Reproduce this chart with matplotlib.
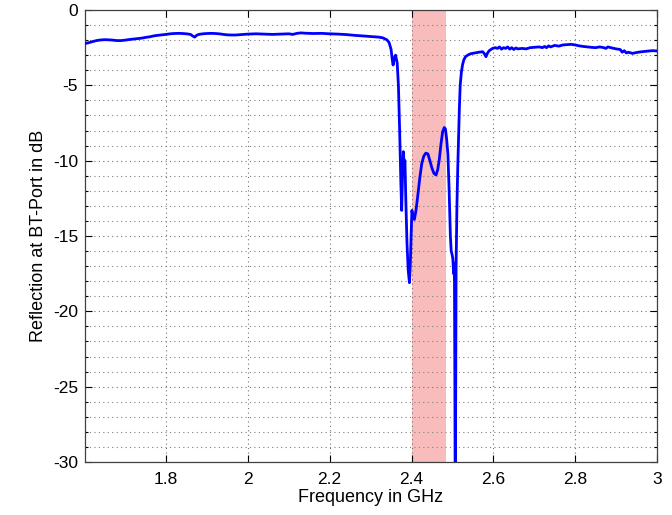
import matplotlib
matplotlib.use("Agg")
import matplotlib.pyplot as plt
from matplotlib.ticker import MultipleLocator, FuncFormatter

plt.rcParams['font.family'] = ['Liberation Sans', 'DejaVu Sans']
plt.rcParams['axes.unicode_minus'] = False

freq_ghz = [
    1.602, 1.61, 1.62, 1.63, 1.64, 1.65, 1.66, 1.67, 1.68, 1.69, 1.70, 1.71, 1.72, 1.73, 1.74,
    1.75, 1.76, 1.77, 1.78, 1.79, 1.80, 1.81, 1.82, 1.83, 1.84, 1.85, 1.86, 1.865, 1.87, 1.875,
    1.88, 1.89, 1.90, 1.91, 1.92, 1.93, 1.94, 1.95, 1.96, 1.97, 1.98, 1.99, 2.00, 2.02, 2.04,
    2.06, 2.08, 2.10, 2.11, 2.12, 2.13, 2.14, 2.16, 2.18, 2.20, 2.22, 2.24, 2.26, 2.28, 2.30,
    2.32, 2.33, 2.34, 2.345, 2.35, 2.353, 2.355, 2.358, 2.361, 2.365, 2.368, 2.371, 2.374, 2.376,
    2.378, 2.380, 2.382, 2.384, 2.386, 2.389, 2.392, 2.395, 2.397, 2.399, 2.401, 2.404, 2.407,
    2.411, 2.415, 2.420, 2.425, 2.430, 2.435, 2.440, 2.445, 2.450, 2.455, 2.460, 2.464, 2.468,
    2.472, 2.476, 2.480, 2.483, 2.486, 2.489, 2.492, 2.495, 2.497, 2.499, 2.501, 2.503, 2.504,
    2.505, 2.506, 2.507, 2.508, 2.509, 2.511, 2.513, 2.515, 2.517, 2.519, 2.522, 2.525, 2.528,
    2.532, 2.537, 2.545, 2.555, 2.565, 2.574, 2.578, 2.582, 2.586, 2.59, 2.598, 2.605, 2.61,
    2.615, 2.62, 2.625, 2.63, 2.635, 2.64, 2.645, 2.65, 2.655, 2.66, 2.67, 2.68, 2.69, 2.70,
    2.712, 2.72, 2.725, 2.73, 2.735, 2.74, 2.75, 2.76, 2.77, 2.78, 2.79, 2.80, 2.81, 2.82,
    2.83, 2.84, 2.85, 2.86, 2.87, 2.875, 2.88, 2.89, 2.90, 2.91, 2.915, 2.92, 2.925, 2.93,
    2.94, 2.95, 2.96, 2.97, 2.98, 2.99, 3.00,
]
reflection_db = [
    -2.22, -2.18, -2.10, -2.03, -1.99, -1.97, -1.98, -2.00, -2.03, -2.03, -2.00, -1.96, -1.93, -1.90, -1.87,
    -1.82, -1.78, -1.72, -1.68, -1.65, -1.62, -1.58, -1.56, -1.55, -1.56, -1.58, -1.62, -1.72, -1.80, -1.68,
    -1.62, -1.58, -1.56, -1.55, -1.56, -1.58, -1.62, -1.65, -1.66, -1.66, -1.64, -1.62, -1.60, -1.58, -1.60,
    -1.62, -1.60, -1.58, -1.62, -1.55, -1.52, -1.54, -1.56, -1.55, -1.58, -1.60, -1.63, -1.68, -1.72, -1.76,
    -1.80, -1.85, -1.98, -2.15, -2.6, -3.3, -3.65, -3.2, -3.0, -3.5, -5.0, -8.0, -11.5, -13.3,
    -11.0, -9.4, -10.2, -10.0, -12.5, -15.5, -17.3, -18.1, -17.0, -15.0, -13.3, -13.8, -13.9,
    -13.3, -12.4, -11.2, -10.2, -9.7, -9.5, -9.55, -10.0, -10.5, -10.85, -10.95, -10.6, -9.9,
    -8.9, -8.1, -7.8, -7.9, -8.6, -9.6, -12.0, -15.0, -16.0, -16.2, -16.5, -17.5, -16.8,
    -18.0, -25.0, -34.0, -25.0, -17.0, -13.0, -10.5, -8.5, -6.5, -5.0, -4.1, -3.6, -3.3,
    -3.1, -3.0, -2.9, -2.85, -2.8, -2.77, -2.9, -3.1, -2.85, -2.7, -2.55, -2.5, -2.55,
    -2.45, -2.6, -2.5, -2.55, -2.45, -2.6, -2.5, -2.62, -2.52, -2.58, -2.55, -2.58, -2.5, -2.48,
    -2.45, -2.5, -2.42, -2.5, -2.38, -2.45, -2.35, -2.4, -2.32, -2.3, -2.28, -2.32, -2.38, -2.42,
    -2.45, -2.48, -2.5, -2.45, -2.5, -2.55, -2.45, -2.52, -2.58, -2.62, -2.8, -2.7, -2.85, -2.8,
    -2.88, -2.82, -2.78, -2.75, -2.72, -2.7, -2.72,
]
ism_band = [2.4, 2.4835]
x_ticks = [1.8, 2.0, 2.2, 2.4, 2.6, 2.8, 3.0]
y_ticks = [0, -5, -10, -15, -20, -25, -30]

fig = plt.figure(figsize=(6.72, 5.15), dpi=100)
ax = fig.add_axes([85/672, 1 - 462/515, (657 - 85)/672, (462 - 10)/515])

ax.axvspan(ism_band[0], ism_band[1], color='#f8bcbc', lw=0, zorder=1)
ax.plot(freq_ghz, reflection_db, color='#0000ff', lw=2.0, zorder=3)

ax.set_xlim(1.602, 3.0)
ax.set_ylim(-30, 0)
ax.set_xticks(x_ticks)
ax.set_yticks(y_ticks)
ax.yaxis.set_minor_locator(MultipleLocator(1))
ax.xaxis.set_major_formatter(FuncFormatter(lambda v, p: f"{v:g}"))
ax.yaxis.set_major_formatter(FuncFormatter(lambda v, p: f"{v:g}"))

ax.grid(True, which='major', axis='both', linestyle=(0, (1, 3)), color='0.45', lw=0.8, zorder=2)
ax.grid(True, which='minor', axis='y', linestyle=(0, (1, 3)), color='0.5', lw=0.8, zorder=2)

ax.tick_params(which='both', direction='in', top=True, right=True, labelsize=12.5, width=0.8)
ax.tick_params(which='major', length=5)
ax.tick_params(axis='x', which='major', pad=7)
ax.tick_params(axis='y', which='major', pad=5)
ax.tick_params(which='minor', length=2.5)
for s in ax.spines.values():
    s.set_linewidth(0.9)
    s.set_color('0.25')

ax.set_xlabel('Frequency in GHz', fontsize=13, labelpad=2)
ax.set_ylabel('Reflection at BT-Port in dB', fontsize=13, labelpad=4)

fig.savefig('out.png', dpi=100)
